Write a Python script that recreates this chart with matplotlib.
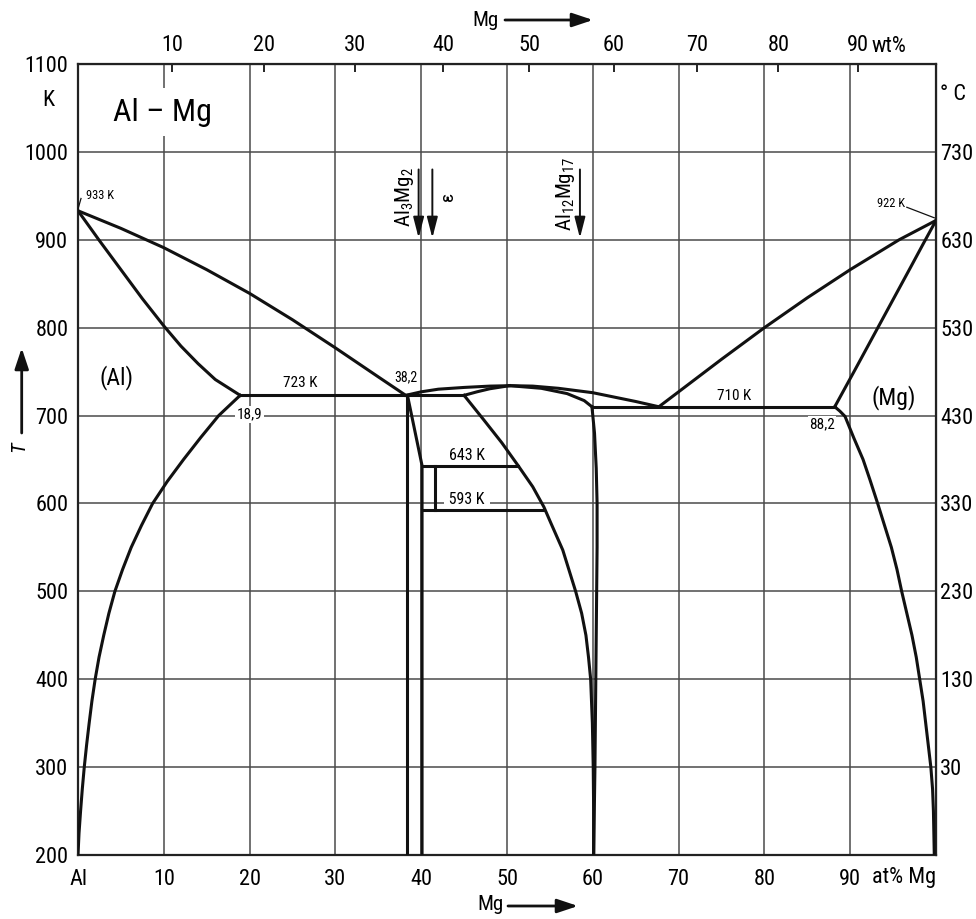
import numpy as np
import matplotlib
matplotlib.use("Agg")
import matplotlib.pyplot as plt
from matplotlib import font_manager

# narrow sans if there is one, the original lettering is very condensed
names = {f.name for f in font_manager.fontManager.ttflist}
stretch = "normal"
for fam in ["Liberation Sans Narrow", "Roboto Condensed", "Open Sans Condensed"]:
    if fam in names:
        break
else:
    fam = "DejaVu Sans"
    if any(f.name == "DejaVu Sans" and "condensed" in str(f.stretch)
           for f in font_manager.fontManager.ttflist):
        stretch = "condensed"
plt.rcParams["font.family"] = [fam, "DejaVu Sans"]
plt.rcParams["font.stretch"] = stretch

# ---- data (at% Mg, temperature in K) ----
liq_al_x = [0, 5, 10, 15, 20, 25, 30, 35, 38.2]
liq_al_T = [933, 913, 891, 866, 839, 809, 777, 744, 723]

sol_al_x = [0, 2.5, 5, 7.5, 10, 12, 14, 16, 18.9]
sol_al_T = [933, 899, 866, 833, 802, 779, 759, 741, 723]

solv_al_x = [18.9, 16.4, 14.3, 12.3, 10.4, 8.7, 7.4, 6.2, 5.2, 4.3, 3.6, 3.0, 2.45,
             2.0, 1.62, 1.3, 1.0, 0.73, 0.5, 0.3, 0.12, 0]
solv_al_T = [723, 700, 675, 650, 625, 600, 575, 550, 525, 500, 475, 450, 425,
             400, 375, 350, 325, 300, 275, 250, 225, 200]

eut1_x = [18.9, 45.0]
eut1_T = [723, 723]

beta_left_x = [38.4, 38.4]
beta_left_T = [723, 200]
beta_right_x = [38.4, 40.1, 40.1]
beta_right_T = [723, 643, 200]

liq_mid_x = [38.2, 40, 42, 45, 48, 50.5, 53, 56, 60, 63, 65, 67.7]
liq_mid_T = [723, 727, 730, 732, 733.5, 734, 733.5, 731, 726, 720, 716, 710]

gam_sol_l_x = [45, 46.5, 48, 50.3]
gam_sol_l_T = [723, 727, 730.5, 734]
gam_sol_r_x = [50.3, 54, 57, 59, 59.9]
gam_sol_r_T = [734, 731, 725, 717, 710]

gam_solv_l_x = [45, 47.3, 49.4, 51.3, 53, 54.3, 55.1, 56.5, 58.0, 58.7, 59.2, 59.5,
                59.75, 59.95, 60.05, 60.1, 60.1]
gam_solv_l_T = [723, 695, 669, 643, 619, 596, 578, 547, 500, 475, 450, 425,
                400, 350, 300, 250, 200]
gam_r_x = [59.9, 60.2, 60.4, 60.5, 60.5, 60.45, 60.35, 60.25, 60.1]
gam_r_T = [710, 680, 640, 600, 550, 500, 400, 300, 200]

line643_x = [40.1, 51.3]
line643_T = [643, 643]
line593_x = [40.1, 54.3]
line593_T = [593, 593]
eps_x = [41.6, 41.6]
eps_T = [643, 593]

eut2_x = [59.9, 88.2]
eut2_T = [710, 710]

liq_mg_x = [67.7, 70, 75, 80, 85, 90, 95.7, 100]
liq_mg_T = [710, 727, 764, 800, 834, 866, 900, 922]

sol_mg_x = [88.2, 90.5, 93, 95, 97, 98.6, 100]
sol_mg_T = [710, 751, 796, 832, 868, 897, 922]

solv_mg_x = [88.2, 88.8, 89.4, 90.4, 91.5, 92.3, 93.2, 94.0, 94.8, 95.45, 96.0, 96.6,
             97.2, 97.7, 98.1, 98.5, 98.8, 99.1, 99.4, 99.6, 99.7, 99.8]
solv_mg_T = [710, 705, 699, 675, 650, 627, 600, 575, 550, 525, 500, 475,
             450, 425, 400, 375, 350, 325, 300, 275, 250, 200]

at_ticks = [0, 10, 20, 30, 40, 50, 60, 70, 80, 90, 100]
at_labels = ["Al", "10", "20", "30", "40", "50", "60", "70", "80", "90", ""]
wt_ticks = [10, 20, 30, 40, 50, 60, 70, 80, 90]
k_ticks = [200, 300, 400, 500, 600, 700, 800, 900, 1000, 1100]
c_ticks = [1000, 900, 800, 700, 600, 500, 400, 300]
c_labels = ["730", "630", "530", "430", "330", "230", "130", "30"]

M_MG, M_AL = 24.305, 26.982


def at2wt(a):
    a = np.asarray(a, float)
    return 100 * a * M_MG / (a * M_MG + (100 - a) * M_AL)


def wt2at(w):
    w = np.asarray(w, float)
    return 100 * (w / M_MG) / (w / M_MG + (100 - w) / M_AL)


fig = plt.figure(figsize=(9.76, 9.19), dpi=100)
ax = fig.add_axes([78 / 976, 64 / 919, 858 / 976, 791 / 919])
ax.set_xlim(0, 100)
ax.set_ylim(200, 1100)
ax.set_xticks(at_ticks)
ax.set_xticklabels(at_labels)
ax.set_yticks(k_ticks)
ax.tick_params(axis="x", length=0, labelsize=16, pad=10)
ax.tick_params(axis="y", length=0, labelsize=16, pad=7)
ax.grid(True, color="#4a4a4a", lw=1.1)
ax.set_axisbelow(True)
for s in ax.spines.values():
    s.set_linewidth(1.6)
    s.set_color("#222222")

top = ax.secondary_xaxis("top", functions=(at2wt, wt2at))
top.set_xticks(wt_ticks)
top.tick_params(direction="in", length=6, width=1.2, labelsize=16, pad=6)

right = ax.secondary_yaxis("right")
right.set_yticks(c_ticks)
right.set_yticklabels(c_labels)
right.tick_params(length=0, labelsize=16, pad=3)

kw = dict(color="#111111", lw=2.2, zorder=3, solid_joinstyle="round")
for xs, ts in [(liq_al_x, liq_al_T), (sol_al_x, sol_al_T), (solv_al_x, solv_al_T),
               (eut1_x, eut1_T), (beta_left_x, beta_left_T), (beta_right_x, beta_right_T),
               (liq_mid_x, liq_mid_T), (gam_sol_l_x, gam_sol_l_T), (gam_sol_r_x, gam_sol_r_T),
               (gam_solv_l_x, gam_solv_l_T), (gam_r_x, gam_r_T),
               (line643_x, line643_T), (line593_x, line593_T), (eps_x, eps_T),
               (eut2_x, eut2_T), (liq_mg_x, liq_mg_T), (sol_mg_x, sol_mg_T),
               (solv_mg_x, solv_mg_T)]:
    ax.plot(xs, ts, **kw)

white = dict(fc="white", ec="none", pad=1)
ax.text(9.8, 1045, "Al – Mg", fontsize=23, ha="center", va="center", zorder=5,
        bbox=dict(fc="white", ec="none", pad=7))
ax.text(4.5, 743, "(Al)", fontsize=17, ha="center", va="center", zorder=5)
ax.text(95.1, 721, "(Mg)", fontsize=17, ha="center", va="center", zorder=5)
ax.text(25.9, 737, "723 K", fontsize=11, ha="center", va="center", zorder=5)
ax.text(38.2, 743, "38,2", fontsize=10, ha="center", va="center", zorder=5)
ax.text(20.0, 701, "18,9", fontsize=11, ha="center", va="center", zorder=5, bbox=white)
ax.text(45.3, 654, "643 K", fontsize=11.5, ha="center", va="center", zorder=5)
ax.text(45.3, 605, " 593 K ", fontsize=11.5, ha="center", va="center", zorder=5, bbox=white)
ax.text(76.5, 722, "710 K", fontsize=11, ha="center", va="center", zorder=5)
ax.text(86.7, 690, "88,2", fontsize=11, ha="center", va="center", zorder=5, bbox=white)
ax.text(0.9, 950, "933 K", fontsize=9, ha="left", va="center", zorder=5)
ax.plot([0.35, 0.0], [947, 935], color="#111111", lw=0.9, zorder=4, clip_on=False)
ax.text(96.4, 941, "922 K", fontsize=9, ha="right", va="center", zorder=5)
ax.plot([96.6, 99.8], [937, 925], color="#111111", lw=0.9, zorder=4)

# phase markers with downward arrows
arr = dict(arrowstyle="-|>,head_length=0.7,head_width=0.18", color="#111111",
           lw=1.4, mutation_scale=18, shrinkA=0, shrinkB=0)
for xm in [39.7, 41.3, 58.5]:
    ax.annotate("", xy=(xm, 902), xytext=(xm, 980), arrowprops=arr, zorder=5)
ax.text(38.1, 948, r"Al$_\mathregular{3}$Mg$_\mathregular{2}$", fontsize=15, rotation=90,
        ha="center", va="center", zorder=5)
ax.text(43.1, 949, "ε", fontsize=14, rotation=90, ha="center", va="center", zorder=5)
ax.text(56.8, 952, r"Al$_\mathregular{12}$Mg$_\mathregular{17}$", fontsize=15, rotation=90,
        ha="center", va="center", zorder=5)


# labels outside the axes, placed in figure pixels (origin top-left of the image)
def fp(x, y):
    return (x / 976, 1 - y / 919)


fig.text(*fp(48, 100), "K", fontsize=16, ha="center", va="center")
fig.text(*fp(940, 95), "° C", fontsize=16, ha="left", va="center")
fig.text(*fp(872, 878), "at% Mg", fontsize=16, ha="left", va="center")
fig.text(*fp(872, 46), "wt%", fontsize=16, ha="left", va="center")
fig.text(*fp(485, 20), "Mg", fontsize=15, ha="center", va="center")
fig.text(*fp(491, 905), "Mg", fontsize=15, ha="center", va="center")
fig.text(*fp(19, 447), "T", fontsize=15, rotation=90, ha="center", va="center",
         style="italic")

big = dict(arrowstyle="-|>,head_length=0.9,head_width=0.3", color="#111111",
           lw=2.0, mutation_scale=14, shrinkA=0, shrinkB=0)
for (x0, y0), (x1, y1) in [((505, 20), (593, 20)), ((508, 906), (578, 906)),
                           ((21.7, 433), (21.7, 348))]:
    ax.annotate("", xy=fp(x1, y1), xytext=fp(x0, y0), xycoords="figure fraction",
                textcoords="figure fraction", arrowprops=big)

fig.savefig("out.png", dpi=100)
